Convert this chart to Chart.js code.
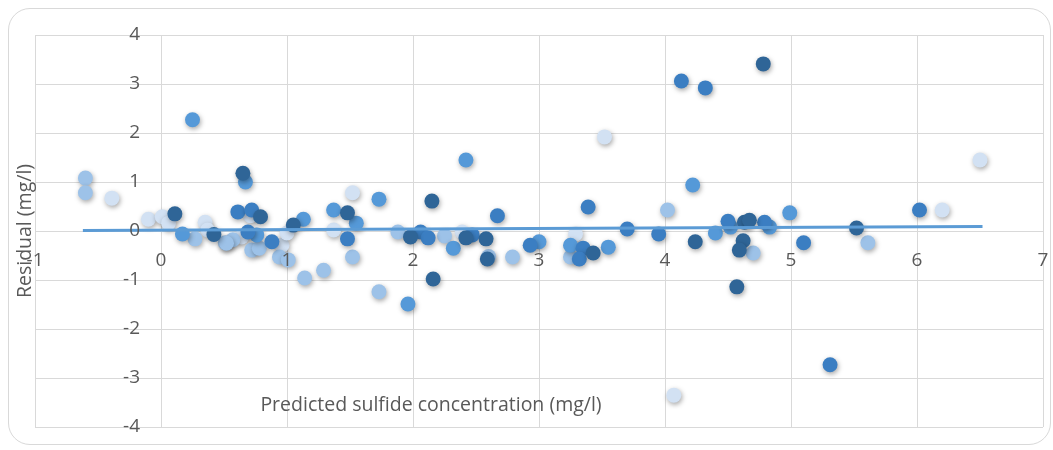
<!DOCTYPE html>
<html>
<head>
<meta charset="utf-8">
<script src="https://cdn.jsdelivr.net/npm/chart.js@4.4.0/dist/chart.umd.min.js"></script>
<style>
  body { margin: 0; background: #fff; }
  #wrap { position: relative; width: 1053px; height: 450px; }
  #frame { position: absolute; left: 8px; top: 8px; width: 1041px; height: 435px;
           border: 1.5px solid #d9d9d9; border-radius: 22px; }
  canvas { position: absolute; left: 0; top: 0; }
</style>
</head>
<body>
<div id="wrap">
  <div id="frame"></div>
  <canvas id="residual-chart" width="1053" height="450"></canvas>
</div>
<script>
// residuals, grouped by marker shade: [predicted, residual]
const darkPts = [
  [0.11, 0.35], [0.42, -0.07], [0.65, 1.18], [0.79, 0.29], [1.05, 0.12],
  [1.48, 0.37], [1.98, -0.12], [2.15, 0.61], [2.16, -0.98], [2.42, -0.14],
  [2.58, -0.16], [2.59, -0.57], [3.43, -0.45], [4.24, -0.22], [4.63, 0.18],
  [4.67, 0.22], [4.62, -0.20], [4.59, -0.39], [4.57, -1.14], [4.78, 3.41],
  [5.52, 0.06]
];
const mediumPts = [
  [0.61, 0.39], [0.72, 0.43], [0.69, -0.02], [0.88, -0.22], [1.48, -0.16],
  [2.06, -0.02], [2.12, -0.14], [2.47, -0.08], [2.67, 0.31], [2.93, -0.29],
  [3.35, -0.35], [3.32, -0.57], [3.39, 0.49], [3.70, 0.04], [3.95, -0.06],
  [4.13, 3.06], [4.32, 2.92], [4.50, 0.20], [4.79, 0.18], [5.10, -0.24],
  [5.31, -2.73], [6.02, 0.43]
];
const bluePts = [
  [0.25, 2.27], [0.67, 1.00], [0.76, -0.08], [0.17, -0.06], [1.13, 0.24],
  [1.37, 0.43], [1.55, 0.16], [1.73, 0.65], [1.96, -1.49], [2.32, -0.35],
  [2.42, 1.45], [3.00, -0.22], [3.25, -0.29], [3.55, -0.33], [4.22, 0.94],
  [4.40, -0.04], [4.52, 0.08], [4.83, 0.08], [4.99, 0.37]
];
const lightPts = [
  [-0.60, 1.08], [-0.60, 0.78], [0.51, -0.24], [0.57, -0.18], [0.72, -0.39],
  [0.78, -0.35], [0.94, -0.53], [1.01, -0.59], [1.14, -0.96], [1.29, -0.80],
  [1.52, -0.53], [1.73, -1.24], [1.88, -0.02], [2.25, -0.10], [2.60, -0.52],
  [2.79, -0.53], [3.25, -0.53], [4.02, 0.43], [4.70, -0.45], [5.61, -0.24],
  [0.27, -0.16], [0.52, -0.25]
];
const palePts = [
  [-0.39, 0.67], [-0.10, 0.24], [0.01, 0.29], [0.06, 0.16], [0.35, 0.18],
  [0.37, 0.02], [0.64, -0.12], [0.71, 0.31], [0.96, -0.29], [1.00, -0.04],
  [1.37, 0.02], [1.52, 0.78], [2.39, -0.02], [3.29, -0.06], [3.52, 1.92],
  [4.07, -3.35], [6.20, 0.43], [6.50, 1.45]
];

// linear trendline end points
const trendX = [-0.62, 6.52];
const trendY = [0.01, 0.09];

const xTitle = "Predicted sulfide concentration (mg/l)";
const yTitle = "Residual (mg/l)";

const textFont = '"Open Sans"';

function toXY(pts) {
  return pts.map(p => ({ x: p[0], y: p[1] }));
}

function pointSet(pts, colour) {
  return {
    data: toXY(pts),
    pointRadius: 7.5,
    pointHoverRadius: 7.5,
    pointBorderWidth: 0,
    backgroundColor: colour,
    borderColor: colour,
    shadow: true
  };
}

// soft drop shadow under the markers, like Excel
const shadowPlugin = {
  id: 'markerShadow',
  beforeDatasetDraw(chart, args) {
    if (!chart.data.datasets[args.index].shadow) return;
    const ctx = chart.ctx;
    ctx.save();
    ctx.shadowColor = 'rgba(0,0,0,0.35)';
    ctx.shadowBlur = 5;
    ctx.shadowOffsetX = 1;
    ctx.shadowOffsetY = 2;
  },
  afterDatasetDraw(chart, args) {
    if (!chart.data.datasets[args.index].shadow) return;
    chart.ctx.restore();
  }
};

// y tick labels sit left of the x = 0 line, titles sit inside the plot
const labelPlugin = {
  id: 'axisText',
  afterDraw(chart) {
    const ctx = chart.ctx;
    const xs = chart.scales.x;
    const ys = chart.scales.y;
    ctx.save();
    ctx.fillStyle = '#595959';
    ctx.font = '19px ' + textFont;
    ctx.textAlign = 'right';
    ctx.textBaseline = 'middle';
    const x0 = xs.getPixelForValue(0);
    ys.ticks.forEach(t => {
      ctx.fillText(String(t.value), x0 - 21, ys.getPixelForValue(t.value));
    });
    ctx.textAlign = 'center';
    ctx.font = '19.5px ' + textFont;
    ctx.fillText(xTitle, 431, 405);
    ctx.translate(25, 231);
    ctx.rotate(-Math.PI / 2);
    ctx.fillText(yTitle, 0, 0);
    ctx.restore();
  }
};

// centred axes should not eat into the plot area
function noOverflow(scale) {
  scale.paddingLeft = 0;
  scale.paddingRight = 0;
  scale.paddingTop = 0;
  scale.paddingBottom = 0;
}

const ctx = document.getElementById('residual-chart').getContext('2d');
const residualChart = new Chart(ctx, {
  type: 'scatter',
  data: {
    datasets: [
      {
        type: 'line',
        data: trendX.map((x, i) => ({ x: x, y: trendY[i] })),
        borderColor: '#5b9bd5',
        borderWidth: 3,
        pointRadius: 0,
        fill: false
      },
      pointSet(darkPts, '#2f6597'),
      pointSet(mediumPts, '#3b7ec2'),
      pointSet(bluePts, '#5599d8'),
      pointSet(lightPts, '#9dc2e8'),
      pointSet(palePts, '#d2e1f3')
    ]
  },
  options: {
    responsive: false,
    animation: false,
    layout: { padding: { left: 35, top: 35, right: 10, bottom: 23 } },
    plugins: {
      legend: { display: false },
      tooltip: { enabled: false }
    },
    scales: {
      x: {
        type: 'linear',
        min: -1,
        max: 7,
        position: { y: 0 },
        afterFit: noOverflow,
        grid: { color: '#d9d9d9', lineWidth: 1, drawTicks: false },
        border: { display: false },
        ticks: {
          stepSize: 1,
          padding: 18,
          z: 1,
          color: '#595959',
          font: { family: textFont, size: 19 }
        }
      },
      y: {
        type: 'linear',
        min: -4,
        max: 4,
        position: { x: 0 },
        afterFit: noOverflow,
        grid: { color: '#d9d9d9', lineWidth: 1, drawTicks: false },
        border: { display: false },
        ticks: { stepSize: 1, display: false }
      }
    }
  },
  plugins: [shadowPlugin, labelPlugin]
});
</script>
</body>
</html>
